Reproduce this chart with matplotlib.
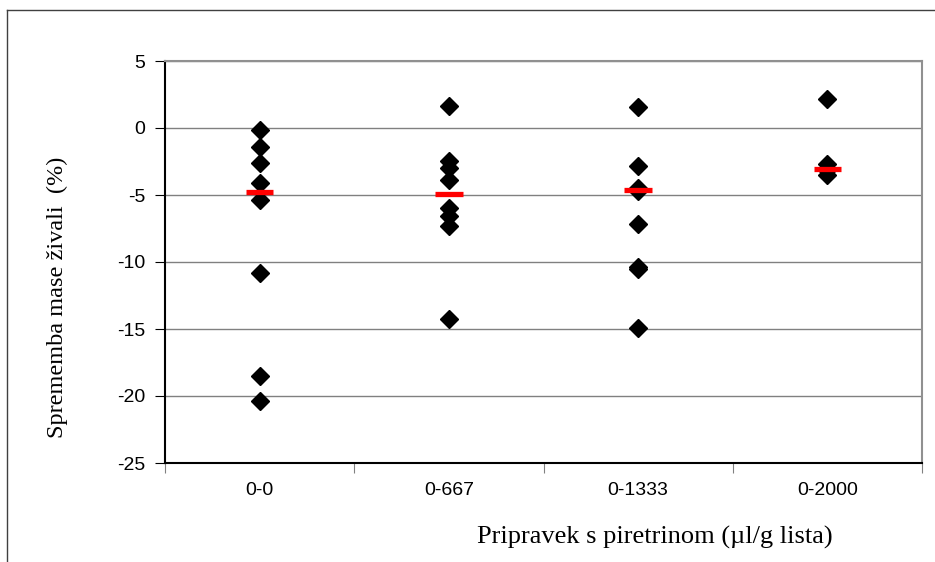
import matplotlib
matplotlib.use("Agg")
import matplotlib.pyplot as plt
from matplotlib.lines import Line2D
import numpy as np

plt.rcParams["axes.unicode_minus"] = False

categories = ["0-0", "0-667", "0-1333", "0-2000"]
values_0 = [-0.15, -1.4, -2.6, -4.1, -5.4, -10.8, -18.5, -20.4]
values_667 = [1.65, -2.45, -2.95, -3.9, -5.95, -6.55, -7.3, -14.25]
values_1333 = [1.55, -2.8, -4.45, -4.7, -7.15, -10.4, -10.5, -14.9]
values_2000 = [2.15, -2.7, -3.1, -3.5]
medians = [-4.8, -4.95, -4.6, -3.05]
series = [values_0, values_667, values_1333, values_2000]

fig = plt.figure(figsize=(9.35, 5.62), dpi=100)
ax = fig.add_axes([165/935, 1-463/562, (922-165)/935, (463-61)/562])

for i, vals in enumerate(series):
    ax.plot([i]*len(vals), vals, linestyle="none", marker="D", color="black",
            markersize=9.5, zorder=3)
ax.hlines(medians, np.arange(4)-0.072, np.arange(4)+0.072, colors="#ff0000",
          linewidth=3.8, zorder=4)

ax.set_xlim(-0.5, 3.5)
ax.set_ylim(-25, 5)
ax.set_yticks(np.arange(-25, 6, 5))
ax.set_xticks(np.arange(-0.5, 4, 1))
ax.set_xticklabels([])
ax.set_xticks(np.arange(4), minor=True)
ax.set_xticklabels(categories, minor=True)
ax.tick_params(axis="x", which="minor", length=0, pad=14, labelsize=14)
ax.tick_params(axis="x", which="major", length=7, direction="out", color="#808080")
ax.tick_params(axis="y", length=7, direction="out", labelsize=14, pad=7)
for lab in ax.get_xticklabels(minor=True) + ax.get_yticklabels():
    lab.set_family("Liberation Sans")

ax.grid(axis="y", color="#808080", linewidth=1)
ax.set_axisbelow(True)
for s in ["top", "right"]:
    ax.spines[s].set_color("#909090")
    ax.spines[s].set_linewidth(1.5)
for s in ["left", "bottom"]:
    ax.spines[s].set_color("black")
    ax.spines[s].set_linewidth(1.5)

fig.text(655/935, 1-537/562, "Pripravek s piretrinom (µl/g lista)",
         ha="center", va="center", family="Liberation Serif", fontsize=19)
fig.text(57/935, 1-297/562, "Sprememba mase živali  (%)", rotation=90,
         ha="center", va="center", family="Liberation Serif", fontsize=17.5)

fig.add_artist(Line2D([7/935, 7/935], [0, 1-10/562], color="#404040", linewidth=1,
                      transform=fig.transFigure))
fig.add_artist(Line2D([7/935, 1], [1-10/562, 1-10/562], color="#404040", linewidth=1,
                      transform=fig.transFigure))

fig.savefig("out.png", dpi=100)
